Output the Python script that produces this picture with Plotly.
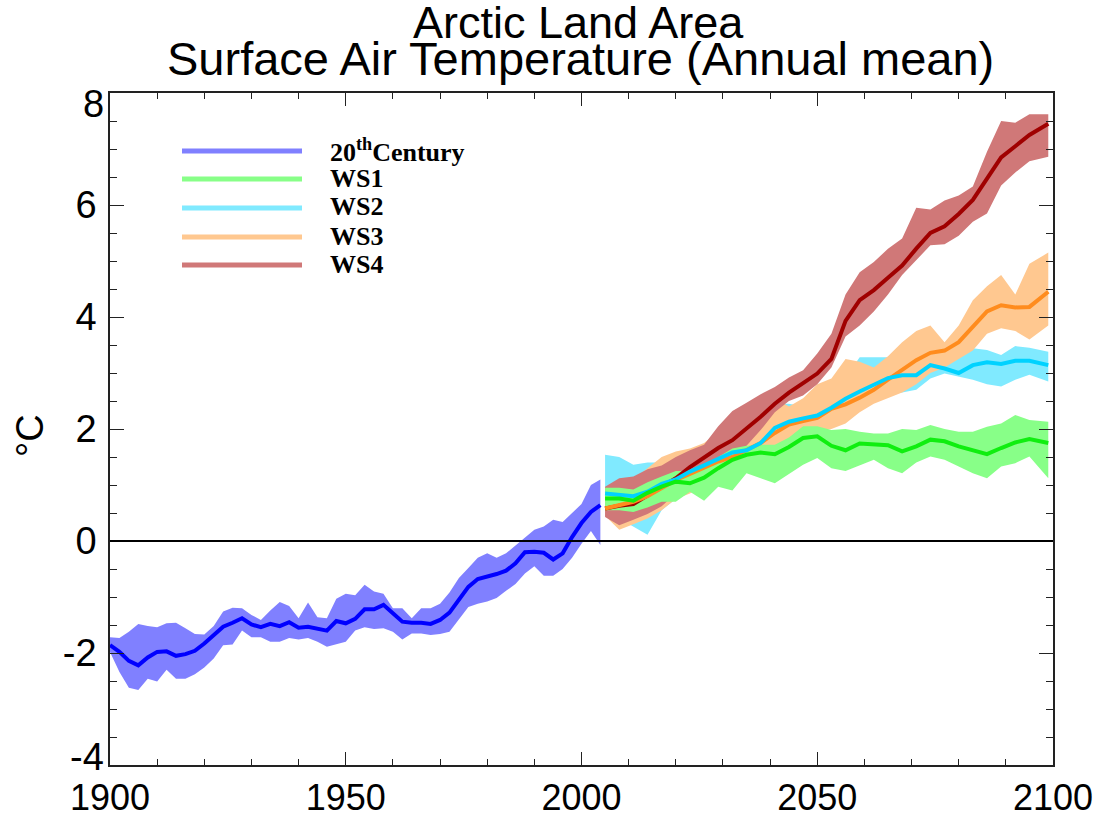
import plotly.graph_objects as go

# ---------------- 20th century simulation (ensemble mean and spread) ----------------
years_20c = list(range(1900, 2005, 2))
mean_20c = [-1.86, -1.98, -2.14, -2.22, -2.08, -1.98, -1.97, -2.05, -2.02, -1.96,
            -1.83, -1.67, -1.53, -1.46, -1.38, -1.49, -1.54, -1.48, -1.52, -1.45,
            -1.55, -1.53, -1.56, -1.60, -1.43, -1.47, -1.39, -1.22, -1.22, -1.14,
            -1.29, -1.44, -1.46, -1.46, -1.48, -1.41, -1.28, -1.06, -0.82, -0.68,
            -0.64, -0.59, -0.53, -0.40, -0.20, -0.19, -0.21, -0.33, -0.22, 0.07,
            0.32, 0.52, 0.64]
upper_20c = [-1.72, -1.73, -1.62, -1.48, -1.52, -1.54, -1.47, -1.46, -1.56, -1.66,
             -1.67, -1.52, -1.26, -1.19, -1.20, -1.32, -1.41, -1.24, -1.09, -1.16,
             -1.38, -1.10, -1.36, -1.38, -1.03, -0.94, -0.97, -0.78, -0.90, -0.94,
             -1.20, -1.20, -1.38, -1.20, -1.20, -1.12, -0.92, -0.66, -0.48, -0.30,
             -0.22, -0.30, -0.22, -0.08, 0.05, 0.20, 0.26, 0.38, 0.34, 0.50,
             0.66, 1.00, 1.10]
lower_20c = [-1.98, -2.34, -2.62, -2.66, -2.46, -2.51, -2.30, -2.46, -2.46, -2.38,
             -2.26, -2.10, -1.86, -1.85, -1.60, -1.72, -1.72, -1.80, -1.80, -1.73,
             -1.76, -1.73, -1.80, -1.89, -1.85, -1.80, -1.60, -1.54, -1.57, -1.56,
             -1.62, -1.76, -1.65, -1.65, -1.68, -1.66, -1.62, -1.40, -1.18, -1.12,
             -1.08, -1.02, -0.89, -0.77, -0.58, -0.45, -0.62, -0.62, -0.50, -0.30,
             -0.05, 0.18, -0.07]

# ---------------- 21st century scenarios ----------------
years_ws = [2005, 2008, 2011, 2014, 2017, 2020, 2023, 2026, 2029, 2032, 2035, 2038,
            2041, 2044, 2047, 2050, 2053, 2056, 2059, 2062, 2065, 2068, 2071, 2074,
            2077, 2080, 2083, 2086, 2089, 2092, 2095, 2099]

ws1_mean = [0.76, 0.76, 0.72, 0.86, 0.97, 1.06, 1.03, 1.13, 1.30, 1.45, 1.54, 1.58,
            1.55, 1.68, 1.84, 1.87, 1.70, 1.62, 1.74, 1.73, 1.71, 1.60, 1.69, 1.81,
            1.78, 1.69, 1.62, 1.55, 1.66, 1.76, 1.82, 1.75]
ws1_upper = [0.95, 0.95, 0.92, 1.05, 1.15, 1.25, 1.25, 1.35, 1.50, 1.65, 1.70, 1.72,
             1.72, 1.85, 2.05, 2.05, 1.98, 2.00, 1.95, 1.92, 1.92, 2.00, 1.98, 2.07,
             2.00, 1.95, 1.95, 2.04, 2.10, 2.25, 2.16, 2.13]
ws1_lower = [0.55, 0.55, 0.52, 0.60, 0.70, 0.70, 0.88, 0.72, 0.97, 0.90, 1.21, 1.12,
             1.03, 1.20, 1.36, 1.48, 1.30, 1.25, 1.35, 1.45, 1.30, 1.21, 1.40, 1.51,
             1.45, 1.33, 1.21, 1.12, 1.33, 1.39, 1.51, 1.12]

ws2_mean = [0.85, 0.82, 0.80, 0.88, 1.02, 1.10, 1.24, 1.35, 1.47, 1.58, 1.62, 1.75,
            2.02, 2.13, 2.19, 2.24, 2.38, 2.54, 2.67, 2.80, 2.91, 2.96, 2.96, 3.14,
            3.08, 3.00, 3.14, 3.19, 3.16, 3.22, 3.22, 3.14]
ws2_upper = [1.54, 1.50, 1.36, 1.40, 1.40, 1.42, 1.50, 1.60, 1.72, 1.85, 1.90, 2.10,
             2.45, 2.45, 2.40, 2.50, 2.62, 2.92, 3.28, 3.28, 3.28, 3.35, 3.20, 3.30,
             3.17, 3.30, 3.44, 3.41, 3.32, 3.48, 3.45, 3.38]
ws2_lower = [0.50, 0.40, 0.25, 0.11, 0.55, 0.75, 0.95, 1.10, 1.20, 1.30, 1.40, 1.50,
             1.75, 1.85, 1.95, 2.00, 2.10, 2.25, 2.40, 2.55, 2.62, 2.65, 2.70, 2.90,
             2.99, 2.93, 2.88, 2.80, 2.76, 2.88, 2.97, 2.85]

ws3_mean = [0.58, 0.64, 0.70, 0.80, 0.95, 1.09, 1.20, 1.31, 1.42, 1.50, 1.62, 1.75,
            1.93, 2.08, 2.14, 2.20, 2.36, 2.44, 2.56, 2.70, 2.88, 3.05, 3.23, 3.36,
            3.40, 3.55, 3.82, 4.10, 4.21, 4.17, 4.18, 4.45]
ws3_upper = [0.95, 1.05, 1.10, 1.30, 1.50, 1.60, 1.65, 1.75, 1.95, 2.10, 2.15, 2.20,
             2.55, 2.40, 2.55, 2.80, 2.90, 3.25, 3.20, 3.10, 3.30, 3.55, 3.75, 3.85,
             3.55, 3.85, 4.30, 4.55, 4.75, 4.40, 4.95, 5.15]
ws3_lower = [0.45, 0.20, 0.30, 0.40, 0.55, 0.75, 0.85, 1.00, 1.10, 1.15, 1.35, 1.50,
             1.60, 1.75, 1.85, 1.95, 2.00, 2.10, 2.30, 2.45, 2.55, 2.65, 2.80, 3.00,
             3.10, 3.25, 3.40, 3.70, 3.80, 3.75, 3.60, 3.85]

ws4_mean = [0.58, 0.63, 0.66, 0.82, 0.97, 1.12, 1.32, 1.50, 1.66, 1.80, 2.00, 2.22,
            2.45, 2.65, 2.82, 2.99, 3.25, 3.93, 4.30, 4.48, 4.70, 4.92, 5.22, 5.50,
            5.62, 5.84, 6.09, 6.47, 6.85, 7.05, 7.25, 7.45]
ws4_upper = [0.97, 1.12, 1.15, 1.28, 1.35, 1.50, 1.62, 1.72, 2.05, 2.32, 2.47, 2.62,
             2.75, 2.92, 3.05, 3.35, 3.70, 4.40, 4.80, 4.98, 5.22, 5.40, 5.95, 5.92,
             6.08, 6.17, 6.33, 6.95, 7.50, 7.47, 7.62, 7.62]
ws4_lower = [0.43, 0.28, 0.38, 0.48, 0.62, 0.85, 1.05, 1.35, 1.42, 1.40, 1.70, 1.98,
             2.30, 2.50, 2.60, 2.80, 3.10, 3.65, 3.85, 4.10, 4.40, 4.75, 5.02, 5.28,
             5.30, 5.45, 5.70, 5.85, 6.35, 6.58, 6.78, 6.86]

legend_labels = ["20<sup>th</sup>Century", "WS1", "WS2", "WS3", "WS4"]

x_tickvals = [1900, 1950, 2000, 2050, 2100]
x_ticktext = ["1900", "1950", "2000", "2050", "2100"]
y_tickvals = [-4, -2, 0, 2, 4, 6, 8]
y_ticktext = ["-4", "-2", "0", "2", "4", "6", "8"]

# colours: (band / legend swatch, ensemble-mean line)
colours = {
    "20c": ("#8080ff", "#0000ff"),
    "ws1": ("#88ff88", "#10ee10"),
    "ws2": ("#80eaff", "#00d2ff"),
    "ws3": ("#ffc890", "#ff8c1e"),
    "ws4": ("#d07878", "#a00000"),
}

fig = go.Figure()


def add_band(x, lo, hi, colour):
    fig.add_trace(go.Scatter(
        x=list(x) + list(x)[::-1],
        y=list(hi) + list(lo)[::-1],
        fill="toself", fillcolor=colour, mode="lines",
        line=dict(width=0, color=colour), hoverinfo="skip", showlegend=False))


def add_mean(x, y, colour):
    fig.add_trace(go.Scatter(
        x=x, y=y, mode="lines", line=dict(color=colour, width=4),
        showlegend=False))


# spreads first, ensemble means on top
add_band(years_20c, lower_20c, upper_20c, colours["20c"][0])
add_band(years_ws, ws2_lower, ws2_upper, colours["ws2"][0])
add_band(years_ws, ws3_lower, ws3_upper, colours["ws3"][0])
add_band(years_ws, ws4_lower, ws4_upper, colours["ws4"][0])
add_band(years_ws, ws1_lower, ws1_upper, colours["ws1"][0])

add_mean(years_20c, mean_20c, colours["20c"][1])
add_mean(years_ws, ws4_mean, colours["ws4"][1])
add_mean(years_ws, ws3_mean, colours["ws3"][1])
add_mean(years_ws, ws2_mean, colours["ws2"][1])
add_mean(years_ws, ws1_mean, colours["ws1"][1])

# plot geometry (pixels)
W, H = 1095, 817
L, R, T, B = 110, 42, 93, 52
pw, ph = W - L - R, H - T - B


def px_x(x):
    return (x - L) / pw


def px_y(y):
    return (H - B - y) / ph


shapes = []
annotations = []

# zero reference line
shapes.append(dict(type="line", xref="paper", yref="y", x0=0, x1=1, y0=0, y1=0,
                   line=dict(color="black", width=2), layer="above"))

# hand-built legend
swatches = [colours[k][0] for k in ["20c", "ws1", "ws2", "ws3", "ws4"]]
legend_rows = [151, 179, 208, 237, 265]
for lab, col, yy in zip(legend_labels, swatches, legend_rows):
    shapes.append(dict(type="line", xref="paper", yref="paper",
                       x0=px_x(182), x1=px_x(302), y0=px_y(yy), y1=px_y(yy),
                       line=dict(color=col, width=5)))
    annotations.append(dict(xref="paper", yref="paper", x=px_x(328), y=px_y(yy - 1),
                            xanchor="left", yanchor="middle", showarrow=False,
                            text="<b>" + lab + "</b>",
                            font=dict(family="Liberation Serif", size=26, color="black")))

# two-line title
annotations.append(dict(xref="paper", yref="paper", x=px_x(578), y=px_y(22),
                        xanchor="center", yanchor="middle", showarrow=False,
                        text="Arctic Land Area",
                        font=dict(family="Liberation Sans", size=45, color="black")))
annotations.append(dict(xref="paper", yref="paper", x=px_x(580), y=px_y(58),
                        xanchor="center", yanchor="middle", showarrow=False,
                        text="Surface Air Temperature (Annual mean)",
                        font=dict(family="Liberation Sans", size=47, color="black")))

# y-axis title
annotations.append(dict(xref="paper", yref="paper", x=px_x(30), y=px_y(436),
                        xanchor="center", yanchor="middle", showarrow=False,
                        textangle=-90, text="°C",
                        font=dict(family="Liberation Sans", size=38, color="black")))

# end labels of the y axis are tucked inside the axis span
y_label_text = dict(zip(y_tickvals, y_ticktext))
for val, shift in [(8, -11), (-4, 8)]:
    annotations.append(dict(xref="paper", yref="y", x=px_x(106), y=val, yshift=shift,
                            xanchor="right", yanchor="middle", showarrow=False,
                            text=y_label_text[val],
                            font=dict(family="Liberation Sans", size=38, color="black")))
y_axis_text = [t if v not in (8, -4) else "" for v, t in zip(y_tickvals, y_ticktext)]

axis_common = dict(showgrid=False, zeroline=False, showline=True, mirror="allticks",
                   linecolor="#222222", linewidth=1.5, ticks="inside",
                   tickcolor="#222222", tickwidth=1.2, automargin=False,
                   ticklabeloverflow="allow")

fig.update_layout(
    width=W, height=H,
    margin=dict(l=L, r=R, t=T, b=B, autoexpand=False),
    paper_bgcolor="white", plot_bgcolor="white",
    showlegend=False,
    xaxis=dict(range=[1900, 2100], tickmode="array",
               tickvals=x_tickvals, ticktext=x_ticktext, ticklen=13,
               minor=dict(dtick=10, ticklen=6, ticks="inside", tickcolor="#222222",
                          tickwidth=1.2, showgrid=False),
               tickfont=dict(family="Liberation Sans", size=36, color="black"),
               ticklabelstandoff=0, **axis_common),
    yaxis=dict(range=[-4, 8], tickmode="array",
               tickvals=y_tickvals, ticktext=y_axis_text, ticklen=14,
               minor=dict(dtick=0.5, ticklen=7, ticks="inside", tickcolor="#222222",
                          tickwidth=1.2, showgrid=False),
               tickfont=dict(family="Liberation Sans", size=38, color="black"),
               ticklabelstandoff=4, **axis_common),
    shapes=shapes,
    annotations=annotations,
)

fig.write_html("out.html")
